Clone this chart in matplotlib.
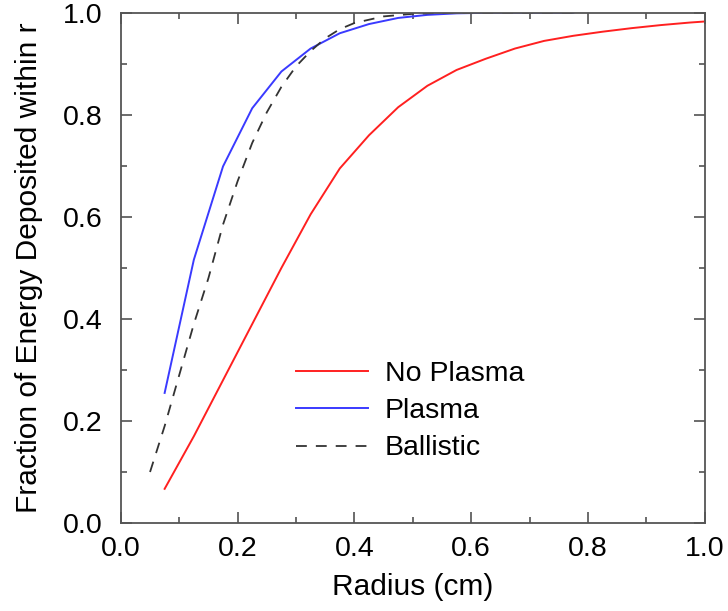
import matplotlib
matplotlib.use("Agg")
import matplotlib.pyplot as plt
from matplotlib.ticker import MultipleLocator

# Fraction of energy deposited within radius r
no_plasma_r = [0.075, 0.125, 0.175, 0.225, 0.275, 0.325, 0.375, 0.425, 0.475, 0.525,
               0.575, 0.625, 0.675, 0.725, 0.775, 0.825, 0.875, 0.925, 0.975, 1.0]
no_plasma_f = [0.067, 0.170, 0.280, 0.390, 0.500, 0.605, 0.695, 0.760, 0.815, 0.857,
               0.888, 0.910, 0.930, 0.945, 0.955, 0.963, 0.970, 0.976, 0.981, 0.983]

plasma_r = [0.075, 0.125, 0.175, 0.225, 0.275, 0.325, 0.375, 0.425, 0.475, 0.525,
            0.575, 0.625, 0.675, 0.725, 0.775]
plasma_f = [0.255, 0.516, 0.699, 0.813, 0.885, 0.930, 0.960, 0.978, 0.990, 0.996,
            0.999, 1.0, 1.0, 1.0, 1.0]

ballistic_r = [0.05, 0.075, 0.1, 0.125, 0.15, 0.175, 0.2, 0.225, 0.25, 0.275, 0.3,
               0.325, 0.35, 0.375, 0.4, 0.45, 0.5, 0.55, 0.6, 0.7, 0.78]
ballistic_f = [0.10, 0.19, 0.29, 0.39, 0.48, 0.585, 0.67, 0.745, 0.805, 0.855, 0.895,
               0.925, 0.950, 0.968, 0.980, 0.993, 0.998, 1.0, 1.0, 1.0, 1.0]

plt.rcParams["font.family"] = ["Liberation Sans", "DejaVu Sans"]
plt.rcParams["font.size"] = 20.5

fig = plt.figure(figsize=(7.28, 6.11), dpi=100)
ax = fig.add_axes([0.166, 0.144, 0.802, 0.835])

ax.plot(no_plasma_r, no_plasma_f, color="#ff2020", lw=1.4, label="No Plasma")
ax.plot(plasma_r, plasma_f, color="#3a3aff", lw=1.4, label="Plasma")
ax.plot(ballistic_r, ballistic_f, color="#333333", lw=1.3, dashes=(6, 5), label="Ballistic")

ax.set_xlim(0, 1)
ax.set_ylim(0, 1)
ax.xaxis.set_major_locator(MultipleLocator(0.2))
ax.xaxis.set_minor_locator(MultipleLocator(0.1))
ax.yaxis.set_major_locator(MultipleLocator(0.2))
ax.yaxis.set_minor_locator(MultipleLocator(0.1))
ax.xaxis.set_major_formatter(plt.FormatStrFormatter("%.1f"))
ax.yaxis.set_major_formatter(plt.FormatStrFormatter("%.1f"))
ax.tick_params(which="both", direction="in", top=True, right=True, color="#444444", width=1.1)
ax.tick_params(which="major", length=8)
ax.tick_params(which="minor", length=4.5)
ax.tick_params(axis="x", which="major", pad=9)
ax.tick_params(axis="y", which="major", pad=13)
for s in ax.spines.values():
    s.set_color("#555555")
    s.set_linewidth(1.3)

ax.set_xlabel("Radius (cm)", fontsize=21.5)
ax.set_ylabel("Fraction of Energy Deposited within r", fontsize=21.5)
ax.xaxis.set_label_coords(0.5, -0.098)
ax.yaxis.set_label_coords(-0.134, 0.5)

ax.legend(loc="upper left", bbox_to_anchor=(0.30, 0.317), frameon=False,
          borderpad=0, borderaxespad=0, handlelength=2.53, handletextpad=0.6,
          labelspacing=0.39, fontsize=20.5)

fig.savefig("out.png", dpi=100)
